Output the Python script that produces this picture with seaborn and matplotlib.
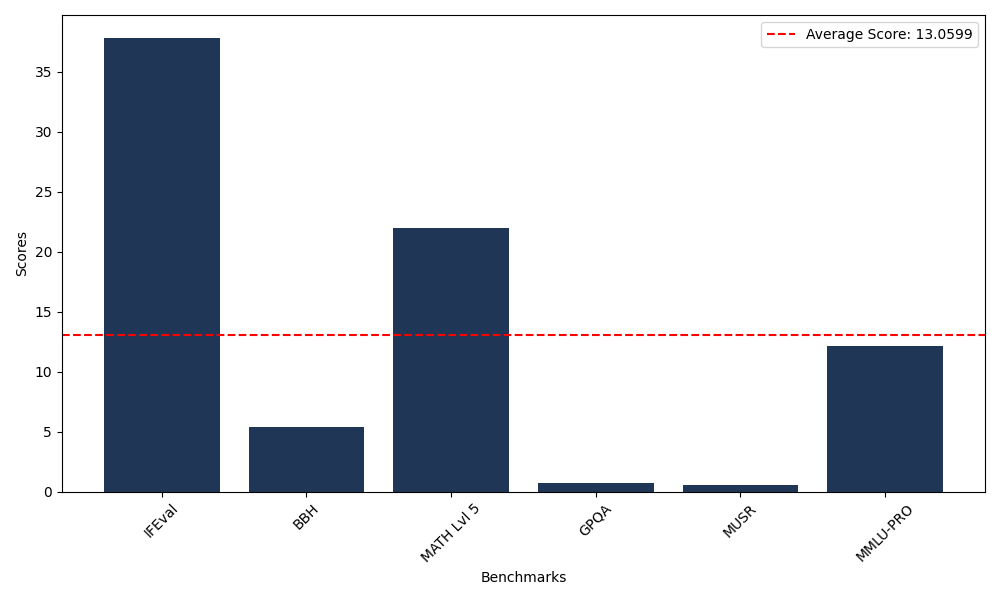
import numpy as np
import pandas as pd
import matplotlib
matplotlib.use("Agg")
import matplotlib.pyplot as plt
import seaborn as sns

benchmarks = ["IFEval", "BBH", "MATH Lvl 5", "GPQA", "MUSR", "MMLU-PRO"]
scores = [37.84, 5.35, 22.0, 0.7, 0.55, 12.18]
average_score = 13.0599

data = pd.DataFrame({"Benchmarks": benchmarks, "Scores": scores})

fig, ax = plt.subplots(figsize=(10, 6))
sns.barplot(data=data, x="Benchmarks", y="Scores", color="#1f3657",
            saturation=1, width=0.8, ax=ax)
ax.axhline(average_score, color="red", linestyle="--",
           label=f"Average Score: {average_score}")
ax.set_xlim(-0.69, len(benchmarks) - 1 + 0.69)
ax.set_xlabel("Benchmarks")
ax.set_ylabel("Scores")
plt.xticks(rotation=45)
ax.legend(loc="upper right")
plt.tight_layout()
plt.savefig("out.png", dpi=100)
